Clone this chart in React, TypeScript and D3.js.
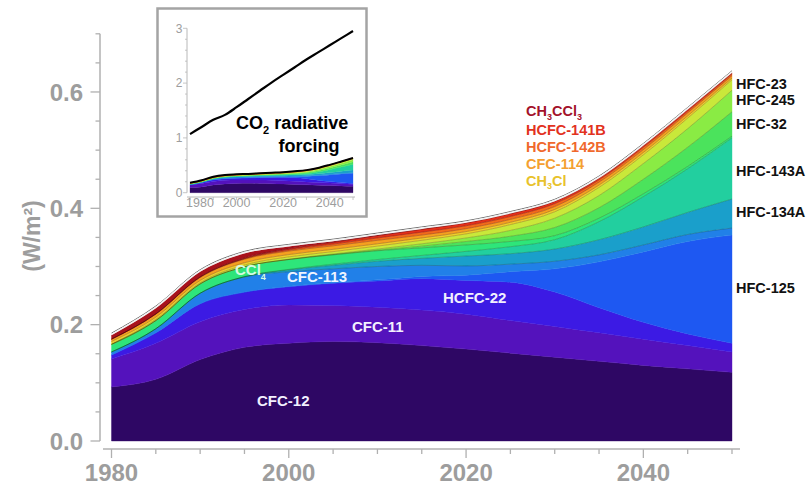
import React from 'react';
import * as d3 from 'd3';

// ---------- data (W/m^2), 5-year steps ----------
const years = [1980, 1985, 1990, 1995, 2000, 2005, 2010, 2015, 2020, 2025, 2030, 2035, 2040, 2045, 2050];
const cfc12 = [0.093, 0.106, 0.140, 0.161, 0.168, 0.171, 0.169, 0.164, 0.158, 0.151, 0.144, 0.137, 0.130, 0.124, 0.118];
const cfc11 = [0.048, 0.062, 0.065, 0.065, 0.066, 0.062, 0.061, 0.061, 0.060, 0.056, 0.053, 0.049, 0.045, 0.040, 0.035];
const hcfc22 = [0.007, 0.018, 0.031, 0.030, 0.031, 0.038, 0.045, 0.054, 0.058, 0.066, 0.059, 0.043, 0.029, 0.020, 0.015];
const hfc125 = [0, 0, 0, 0, 0.001, 0.001, 0.002, 0.004, 0.009, 0.018, 0.040, 0.079, 0.121, 0.159, 0.186];
const cfc113 = [0.005, 0.007, 0.018, 0.026, 0.025, 0.024, 0.023, 0.019, 0.016, 0.013, 0.013, 0.012, 0.012, 0.012, 0.012];
const hfc134a = [0, 0, 0, 0.0005, 0.003, 0.006, 0.009, 0.012, 0.017, 0.018, 0.021, 0.026, 0.031, 0.038, 0.050];
const hfc143a = [0, 0, 0, 0, 0.001, 0.002, 0.003, 0.005, 0.008, 0.012, 0.016, 0.031, 0.052, 0.075, 0.105];
const ccl4 = [0.013, 0.014, 0.016, 0.017, 0.017, 0.016, 0.015, 0.013, 0.011, 0.009, 0.007, 0.006, 0.005, 0.004, 0.003];
const hfc32 = [0, 0, 0, 0, 0, 0.0005, 0.001, 0.003, 0.006, 0.009, 0.014, 0.018, 0.025, 0.033, 0.042];
const hfc245 = [0, 0, 0, 0, 0.0005, 0.001, 0.002, 0.004, 0.006, 0.010, 0.016, 0.021, 0.027, 0.032, 0.037];
const hfc23 = [0.001, 0.002, 0.002, 0.003, 0.004, 0.004, 0.005, 0.006, 0.007, 0.010, 0.011, 0.014, 0.015, 0.018, 0.018];
const ch3cl = [0.004, 0.004, 0.004, 0.004, 0.004, 0.004, 0.004, 0.004, 0.004, 0.004, 0.004, 0.004, 0.004, 0.004, 0.003];
const cfc114 = [0.004, 0.005, 0.005, 0.006, 0.006, 0.006, 0.006, 0.005, 0.005, 0.005, 0.005, 0.005, 0.005, 0.005, 0.004];
const hcfc142b = [0, 0.0005, 0.001, 0.001, 0.002, 0.003, 0.004, 0.005, 0.005, 0.005, 0.005, 0.004, 0.004, 0.003, 0.003];
const hcfc141b = [0, 0, 0, 0.001, 0.002, 0.003, 0.004, 0.005, 0.005, 0.005, 0.004, 0.003, 0.003, 0.003, 0.002];
const ch3ccl3 = [0.007, 0.010, 0.009, 0.008, 0.004, 0.002, 0.001, 0.0005, 0, 0, 0, 0, 0, 0, 0];

const co2Forcing = [1.07, 1.20, 1.33, 1.42, 1.56, 1.71, 1.86, 2.01, 2.15, 2.29, 2.43, 2.56, 2.69, 2.82, 2.95];

const speciesNames = ['CFC-12', 'CFC-11', 'HCFC-22', 'HFC-125', 'CFC-113', 'HFC-134A', 'HFC-143A', 'CCl4',
  'HFC-32', 'HFC-245', 'HFC-23', 'CH3Cl', 'CFC-114', 'HCFC-142B', 'HCFC-141B', 'CH3CCl3'];
const speciesSeries = [cfc12, cfc11, hcfc22, hfc125, cfc113, hfc134a, hfc143a, ccl4,
  hfc32, hfc245, hfc23, ch3cl, cfc114, hcfc142b, hcfc141b, ch3ccl3];
const speciesColors = ['#2e0764', '#5412bc', '#3c1ae4', '#1e58f2', '#2180e8', '#1a9fcb', '#22cf9f', '#2ee57a',
  '#4be35c', '#8aeb44', '#c9e83a', '#efcf2c', '#f5a020', '#f26a1c', '#e2301a', '#a8121c'];

const yTickLabels = ['0.0', '0.2', '0.4', '0.6'];
const xTickLabels = ['1980', '2000', '2020', '2040'];
const insetYLabels = ['0', '1', '2', '3'];
const insetXLabels = ['1980', '2000', '2020', '2040'];

const rightLabels = ['HFC-23', 'HFC-245', 'HFC-32', 'HFC-143A', 'HFC-134A', 'HFC-125'];

const FONT = 'Liberation Sans, Arial, Helvetica, sans-serif';
const GREY = '#9d9d9d';

export default function App() {
  const rows = years.map((yr, i) => {
    const r: any = { year: yr };
    speciesNames.forEach((n, k) => { r[n] = speciesSeries[k][i]; });
    return r;
  });
  const totals = years.map((_, i) => speciesSeries.reduce((s, arr) => s + arr[i], 0));
  const stacked = d3.stack<any>().keys(speciesNames)(rows);

  // main scales
  const x = d3.scaleLinear().domain([1980, 2050]).range([111.5, 732]);
  const y = d3.scaleLinear().domain([0, 0.7]).range([441, 33.8]);

  const area = d3.area<any>()
    .x(d => x(d.data.year)).y0(d => y(d[0])).y1(d => y(d[1]))
    .curve(d3.curveMonotoneX);
  const topLine = d3.line<any>()
    .x(d => x(d.data.year)).y(d => y(d[1]))
    .curve(d3.curveMonotoneX);
  const totalLine = d3.line<number>()
    .x((_, i) => x(years[i])).y(d => y(d))
    .curve(d3.curveMonotoneX);

  // inset scales
  const xi = d3.scaleLinear().domain([1980, 2050]).range([190, 353]);
  const yi = d3.scaleLinear().domain([0, 3]).range([192.7, 28.3]);
  const areaI = d3.area<any>()
    .x(d => xi(d.data.year)).y0(d => yi(d[0])).y1(d => yi(d[1]))
    .curve(d3.curveMonotoneX);
  const totalLineI = d3.line<number>()
    .x((_, i) => xi(years[i])).y(d => yi(d))
    .curve(d3.curveMonotoneX);

  const yTicks = d3.range(0, 0.7001, 0.05);
  const xTicks = d3.range(1980, 2051, 5);
  const yMajor = [0, 0.2, 0.4, 0.6];
  const xMajor = [1980, 2000, 2020, 2040];

  const rightY = [88.5, 105, 129, 176, 216.5, 292.5];

  return (
    <div style={{ position: 'fixed', left: 0, top: 0 }}>
      <svg width={811} height={485} style={{ display: 'block', background: '#fff' }} fontFamily={FONT}>
        {/* stacked areas */}
        {stacked.map((s, k) => (
          <path key={speciesNames[k]} d={area(s) || ''} fill={speciesColors[k]} stroke={speciesColors[k]} strokeWidth={0.4} />
        ))}
        {stacked.map((s, k) => (k >= 4 && k < stacked.length - 1 ? (
          <path key={'b' + k} d={topLine(s) || ''} fill="none" stroke="rgba(0,0,0,0.35)" strokeWidth={0.6} />
        ) : null))}
        {/* top outline */}
        <path d={totalLine(totals) || ''} fill="none" stroke="#6a6a6a" strokeWidth={1} transform="translate(0,-2)" />
        <path d={totalLine(totals) || ''} fill="none" stroke="#f2f2f2" strokeWidth={1.6} transform="translate(0,-0.8)" />

        {/* y axis */}
        <line x1={100} x2={100} y1={y(0.7)} y2={y(0)} stroke="#b0b0b0" strokeWidth={1.5} />
        {yTicks.map(v => {
          const major = yMajor.some(m => Math.abs(m - v) < 1e-6);
          return <line key={'yt' + v} x1={major ? 90.5 : 95.5} x2={100} y1={y(v)} y2={y(v)} stroke="#b0b0b0" strokeWidth={1.3} />;
        })}
        {yMajor.map((v, i) => (
          <text key={'yl' + v} x={83} y={y(v)} dy="0.36em" textAnchor="end" fontSize={24} fontWeight="bold" fill={GREY}>{yTickLabels[i]}</text>
        ))}
        <text transform="translate(40,236) rotate(-90)" textAnchor="middle" fontSize={23} fontWeight="bold" fill={GREY}>(W/m²)</text>

        {/* x axis */}
        <line x1={103} x2={740} y1={449} y2={449} stroke="#b0b0b0" strokeWidth={1.5} />
        {xTicks.map(v => {
          const major = xMajor.includes(v);
          return <line key={'xt' + v} x1={x(v)} x2={x(v)} y1={449} y2={major ? 458 : 454} stroke="#b0b0b0" strokeWidth={1.3} />;
        })}
        {xMajor.map((v, i) => (
          <text key={'xl' + v} x={x(v)} y={481} textAnchor="middle" fontSize={24} fontWeight="bold" fill={GREY}>{xTickLabels[i]}</text>
        ))}

        {/* labels inside the stack */}
        <text x={257} y={406} fontSize={15} fontWeight="bold" fill="#f2f0ff">CFC-12</text>
        <text x={352} y={332} fontSize={15} fontWeight="bold" fill="#f2f0ff">CFC-11</text>
        <text x={443} y={303} fontSize={15} fontWeight="bold" fill="#f2f0ff">HCFC-22</text>
        <text x={287} y={282} fontSize={15} fontWeight="bold" fill="#eef4ff">CFC-113</text>
        <text x={235} y={275} fontSize={15} fontWeight="bold" fill="#d6fbe2">
          <tspan>CCl</tspan><tspan dy={5} fontSize={9}>4</tspan>
        </text>

        {/* labels of the thin upper layers */}
        <text x={526} y={115.5} fontSize={14.5} fontWeight="bold" fill="#a3122a">
          <tspan>CH</tspan><tspan dy={4} fontSize={9}>3</tspan><tspan dy={-4}>CCl</tspan><tspan dy={4} fontSize={9}>3</tspan>
        </text>
        <text x={526} y={135} fontSize={14.5} fontWeight="bold" fill="#e2321e">HCFC-141B</text>
        <text x={526} y={152} fontSize={14.5} fontWeight="bold" fill="#f0682c">HCFC-142B</text>
        <text x={526} y={169} fontSize={14.5} fontWeight="bold" fill="#f4a030">CFC-114</text>
        <text x={526} y={186} fontSize={14.5} fontWeight="bold" fill="#e8c22c">
          <tspan>CH</tspan><tspan dy={3} fontSize={9}>3</tspan><tspan dy={-3}>Cl</tspan>
        </text>

        {/* right side labels */}
        {rightLabels.map((t, i) => (
          <text key={t} x={736} y={rightY[i]} fontSize={14.5} fontWeight="bold" fill="#111">{t}</text>
        ))}

        {/* inset */}
        <rect x={157.5} y={8.5} width={209} height={208} fill="#fff" stroke="#a4a4a4" strokeWidth={2.5} />
        {stacked.map((s, k) => (
          <path key={'i' + k} d={areaI(s) || ''} fill={speciesColors[k]} stroke={speciesColors[k]} strokeWidth={0.3} />
        ))}
        <path d={totalLineI(totals) || ''} fill="none" stroke="#000" strokeWidth={2} />
        <path d={totalLineI(co2Forcing) || ''} fill="none" stroke="#000" strokeWidth={2.2} />
        <line x1={187} x2={187} y1={yi(3)} y2={yi(0)} stroke="#b8b8b8" strokeWidth={1} />
        {d3.range(0, 3.001, 0.2).map(v => (
          <line key={'iyt' + v} x1={Math.abs(v - Math.round(v)) < 1e-6 ? 183 : 185} x2={187} y1={yi(v)} y2={yi(v)} stroke="#b8b8b8" strokeWidth={0.8} />
        ))}
        {[0, 1, 2, 3].map((v, i) => (
          <text key={'iyl' + v} x={179} y={yi(v)} dy="0.36em" textAnchor="middle" fontSize={12} fill={GREY}>{insetYLabels[i]}</text>
        ))}
        <line x1={187} x2={355} y1={197} y2={197} stroke="#b8b8b8" strokeWidth={1} />
        {d3.range(1980, 2051, 10).map(v => (
          <line key={'ixt' + v} x1={xi(v)} x2={xi(v)} y1={197} y2={200} stroke="#b8b8b8" strokeWidth={0.8} />
        ))}
        {[1980, 2000, 2020, 2040].map((v, i) => (
          <text key={'ixl' + v} x={v === 1980 ? xi(v) + 10 : xi(v)} y={207} textAnchor="middle" fontSize={12.5} fill={GREY}>{insetXLabels[i]}</text>
        ))}
        <text x={236} y={129} fontSize={18} fontWeight="bold" fill="#000">
          <tspan>CO</tspan><tspan dy={5} fontSize={11}>2</tspan><tspan dy={-5}> radiative</tspan>
        </text>
        <text x={309} y={152} textAnchor="middle" fontSize={18} fontWeight="bold" fill="#000">forcing</text>
      </svg>
    </div>
  );
}
